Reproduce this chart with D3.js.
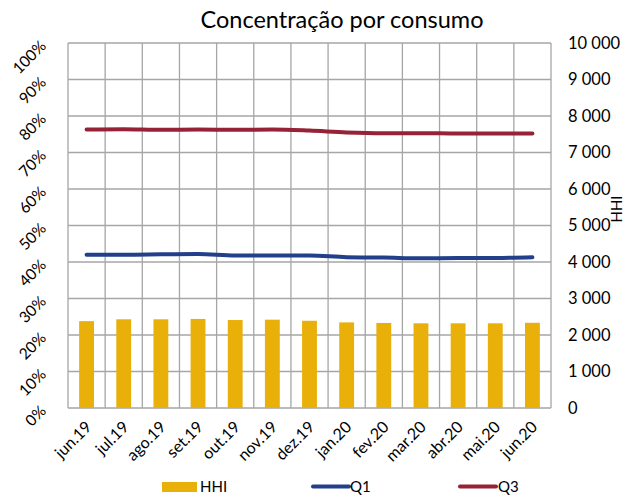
<!DOCTYPE html>
<html><head><meta charset="utf-8">
<script src="https://cdn.jsdelivr.net/npm/d3@7"></script>
<style>
body{margin:0;background:#fff;}
svg{display:block;font-family:Lato,"Open Sans",sans-serif;}
</style></head>
<body>
<svg id="chart" width="631" height="496"></svg>
<script>
const categories = ["jun.19","jul.19","ago.19","set.19","out.19","nov.19","dez.19","jan.20","fev.20","mar.20","abr.20","mai.20","jun.20"];
const hhi = [2380, 2430, 2430, 2440, 2410, 2420, 2390, 2345, 2330, 2320, 2320, 2320, 2335];
const q1 = [0.420, 0.420, 0.421, 0.422, 0.418, 0.418, 0.418, 0.413, 0.412, 0.410, 0.411, 0.411, 0.413];
const q3 = [0.763, 0.764, 0.762, 0.763, 0.762, 0.763, 0.760, 0.755, 0.753, 0.753, 0.752, 0.752, 0.752];
const leftTicks = [0,0.1,0.2,0.3,0.4,0.5,0.6,0.7,0.8,0.9,1.0];
const rightTicks = [0,1000,2000,3000,4000,5000,6000,7000,8000,9000,10000];

const svg = d3.select("#chart");
const L = 68, R = 551, T = 43, B = 408;
const x = d3.scaleBand().domain(categories).range([L, R]).paddingInner(0).paddingOuter(0);
const yL = d3.scaleLinear().domain([0,1]).range([B, T]);
const yR = d3.scaleLinear().domain([0,10000]).range([B, T]);
const grid = "#a6a6a6";

// horizontal gridlines
svg.append("g").selectAll("line").data(leftTicks).join("line")
  .attr("x1", L).attr("x2", R)
  .attr("y1", d => yL(d)).attr("y2", d => yL(d))
  .attr("stroke", grid).attr("stroke-width", 1.3);
// vertical gridlines
const vx = categories.map(c => x(c)).concat([R]);
svg.append("g").selectAll("line").data(vx).join("line")
  .attr("x1", d => d).attr("x2", d => d)
  .attr("y1", T).attr("y2", B)
  .attr("stroke", grid).attr("stroke-width", 1.3);

// bars
const bw = x.bandwidth() * 0.4;
svg.append("g").selectAll("rect").data(hhi).join("rect")
  .attr("x", (d,i) => x(categories[i]) + x.bandwidth()/2 - bw/2)
  .attr("width", bw)
  .attr("y", d => yR(d))
  .attr("height", d => B - yR(d))
  .attr("fill", "#E8B009");

// lines
const line = d3.line()
  .x((d,i) => x(categories[i]) + x.bandwidth()/2)
  .y(d => yL(d))
  .curve(d3.curveMonotoneX);
svg.append("path").datum(q3).attr("d", line)
  .attr("fill","none").attr("stroke","#962236").attr("stroke-width",4).attr("stroke-linecap","round");
svg.append("path").datum(q1).attr("d", line)
  .attr("fill","none").attr("stroke","#213F8A").attr("stroke-width",4).attr("stroke-linecap","round");

// left axis labels
const pct = d3.format(".0%");
svg.append("g").selectAll("text").data(leftTicks).join("text")
  .attr("transform", d => `translate(47,${yL(d)+4}) rotate(-45)`)
  .attr("text-anchor","end")
  .attr("font-size", 15.5).attr("fill","#000")
  .text(d => pct(d));

// right axis labels
svg.append("g").selectAll("text").data(rightTicks).join("text")
  .attr("x", 568).attr("y", d => yR(d))
  .attr("dy", "0.36em")
  .attr("font-size", 16.5).attr("fill","#000")
  .text(d => d3.format(",")(d).replace(/,/g, " "));

// right axis title
svg.append("text")
  .attr("transform", "translate(622,209) rotate(-90)")
  .attr("text-anchor","middle")
  .attr("font-size", 15).attr("fill","#000")
  .text("HHI");

// x axis labels
svg.append("g").selectAll("text").data(categories).join("text")
  .attr("transform", d => `translate(${x(d)+x.bandwidth()/2+6},428) rotate(-45)`)
  .attr("text-anchor","end")
  .attr("font-size", 16).attr("fill","#000")
  .text(d => d);

// title
svg.append("text")
  .attr("x", 342).attr("y", 28)
  .attr("text-anchor","middle")
  .attr("font-size", 23.5).attr("fill","#000")
  .text("Concentração por consumo");

// legend
const lg = svg.append("g").attr("font-size", 15).attr("fill","#000");
lg.append("rect").attr("x",162).attr("y",482).attr("width",35).attr("height",10).attr("fill","#E8B009");
lg.append("text").attr("x",200).attr("y",492).text("HHI");
lg.append("line").attr("x1",313).attr("x2",349).attr("y1",486.5).attr("y2",486.5)
  .attr("stroke","#213F8A").attr("stroke-width",4).attr("stroke-linecap","round");
lg.append("text").attr("x",350).attr("y",492).text("Q1");
lg.append("line").attr("x1",460).attr("x2",496).attr("y1",486.5).attr("y2",486.5)
  .attr("stroke","#962236").attr("stroke-width",4).attr("stroke-linecap","round");
lg.append("text").attr("x",498).attr("y",492).text("Q3");
</script>
</body></html>
